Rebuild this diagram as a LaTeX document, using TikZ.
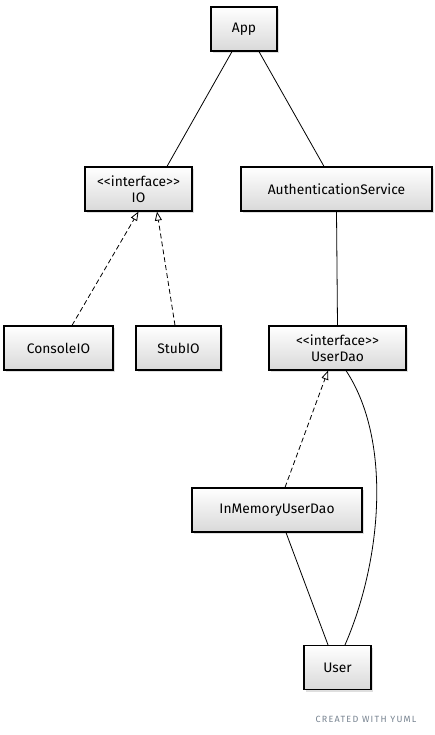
\documentclass[tikz,border=0pt]{standalone}
\usepackage{fontspec}
\setmainfont{Fira Sans}
\usetikzlibrary{arrows.meta,calc,shadows,shadings}
\definecolor{creditgray}{RGB}{120,132,145}
\newcommand{\ltlt}{<\kern0pt<}
\newcommand{\gtgt}{>\kern0pt>}
\tikzset{
  umlbox/.style={draw=black, line width=1.2pt, top color=white, bottom color=gray!30,
    minimum height=44pt, inner sep=2pt, align=center,
    font=\fontsize{13.8}{16}\selectfont,
    drop shadow={opacity=0.25, shadow xshift=2pt, shadow yshift=-2pt}},
  assoc/.style={draw=black, line width=0.8pt},
  realize/.style={draw=black, line width=0.8pt, dashed, dash pattern=on 5pt off 3pt,
    -{Triangle[open, length=9pt, width=7pt, fill=white]}},
}
\begin{document}
\begin{tikzpicture}[x=1pt,y=-1pt]
\useasboundingbox[fill=white] (0,0) rectangle (435,735);
\node[umlbox, minimum width=66pt] (app) at (244,29) {App};
\node[umlbox, minimum width=107pt] (io) at (138.5,189) {\ltlt interface\gtgt\\IO};
\node[umlbox, minimum width=191pt] (auth) at (336.5,189) {AuthenticationService};
\node[umlbox, minimum width=109pt] (consoleio) at (58.5,348) {ConsoleIO};
\node[umlbox, minimum width=85pt] (stubio) at (178.5,348) {StubIO};
\node[umlbox, minimum width=137pt] (userdao) at (337.5,348) {\ltlt interface\gtgt\\UserDao};
\node[umlbox, minimum width=170pt] (inmem) at (277,510) {InMemoryUserDao};
\node[umlbox, minimum width=67pt] (user) at (337.5,667.5) {User};
\node[text=creditgray, font=\fontsize{9}{10}\selectfont\addfontfeatures{LetterSpace=14}] (credit) at (366,719) {CREATED WITH YUML};

\draw[assoc] ($(app.south)+(-12,0)$) -- ($(io.north)+(28.5,0)$);
\draw[assoc] ($(app.south)+(15,0)$) -- ($(auth.north)+(-12.5,0)$);
\draw[assoc] (auth.south) -- (userdao.north);
\draw[realize] ($(consoleio.north)+(13.5,0)$) -- ($(io.south)+(0,0)$);
\draw[realize] ($(stubio.north)+(-3.5,0)$) -- ($(io.south)+(18.5,0)$);
\draw[realize] ($(inmem.north)+(8,0)$) -- ($(userdao.south)+(-9.5,0)$);
\draw[assoc] ($(inmem.south)+(9,0)$) -- ($(user.north)+(-9.5,0)$);
\draw[assoc] ($(userdao.south)+(8.5,0)$) .. controls (392,440) and (382,560) .. ($(user.north)+(7.5,0)$);
\end{tikzpicture}
\end{document}
